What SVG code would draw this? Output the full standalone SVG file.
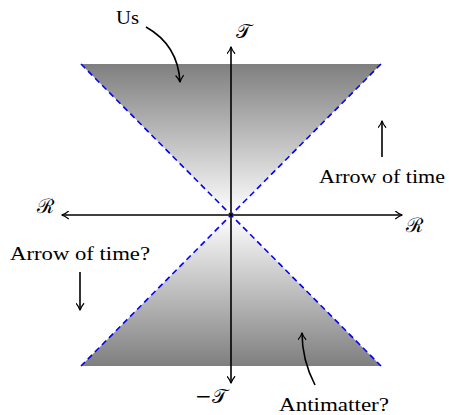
<svg xmlns="http://www.w3.org/2000/svg" width="449" height="415" viewBox="0 0 449 415">
<style>
text{font-family:"Liberation Serif","DejaVu Serif",serif;font-size:18px;fill:#000}
.m{font-family:"DejaVu Serif","Liberation Serif",serif;font-size:20px}
.ax{stroke:#000;stroke-width:1.6;fill:none}
.dash{stroke:#0000ff;stroke-width:1.6;stroke-dasharray:6,4;fill:none}
</style>
<defs>
<linearGradient id="gt" x1="0" y1="64" x2="0" y2="215" gradientUnits="userSpaceOnUse">
<stop offset="0" stop-color="#7f7f7f"/><stop offset="1" stop-color="#ffffff"/>
</linearGradient>
<linearGradient id="gb" x1="0" y1="215" x2="0" y2="366" gradientUnits="userSpaceOnUse">
<stop offset="0" stop-color="#ffffff"/><stop offset="1" stop-color="#7f7f7f"/>
</linearGradient>
<marker id="ah" viewBox="0 0 10 10" refX="8.5" refY="5" markerWidth="9" markerHeight="9" orient="auto" markerUnits="userSpaceOnUse">
<path d="M1,0.5 Q5,4 9,5 Q5,6 1,9.5" fill="none" stroke="#000" stroke-width="1.3"/>
</marker>
</defs>
<g id="cones">
<polygon points="81,64 381,64 231,215" fill="url(#gt)"/>
<polygon points="231,215 381,366 81,366" fill="url(#gb)"/>
<line class="dash" x1="81" y1="64" x2="381" y2="366"/>
<line class="dash" x1="381" y1="64" x2="81" y2="366"/>
</g>
<g id="connectors">
<line class="ax" x1="231" y1="215" x2="231" y2="47" marker-end="url(#ah)"/>
<line class="ax" x1="231" y1="215" x2="231" y2="383" marker-end="url(#ah)"/>
<line class="ax" x1="231" y1="215" x2="402" y2="215" marker-end="url(#ah)"/>
<line class="ax" x1="231" y1="215" x2="62" y2="215" marker-end="url(#ah)"/>
<path class="ax" d="M146,27 Q178,45 180,82" marker-end="url(#ah)"/>
<path class="ax" d="M315,385 Q302,360 302,333" marker-end="url(#ah)"/>
<line class="ax" x1="382" y1="157" x2="382" y2="121" marker-end="url(#ah)"/>
<line class="ax" x1="80" y1="272" x2="80" y2="310" marker-end="url(#ah)"/>
</g>
<g id="labels">
<text x="116" y="24" textLength="23" lengthAdjust="spacingAndGlyphs">Us</text>
<text class="m" x="236" y="38">𝒯</text>
<text class="m" x="37" y="213">ℛ</text>
<text class="m" x="406" y="232">ℛ</text>
<text x="319" y="183" textLength="126" lengthAdjust="spacingAndGlyphs">Arrow of time</text>
<text x="10" y="260" textLength="140" lengthAdjust="spacingAndGlyphs">Arrow of time?</text>
<text class="m" x="195" y="403">−𝒯</text>
<text x="279" y="411" textLength="110" lengthAdjust="spacingAndGlyphs">Antimatter?</text>
</g>
</svg>
